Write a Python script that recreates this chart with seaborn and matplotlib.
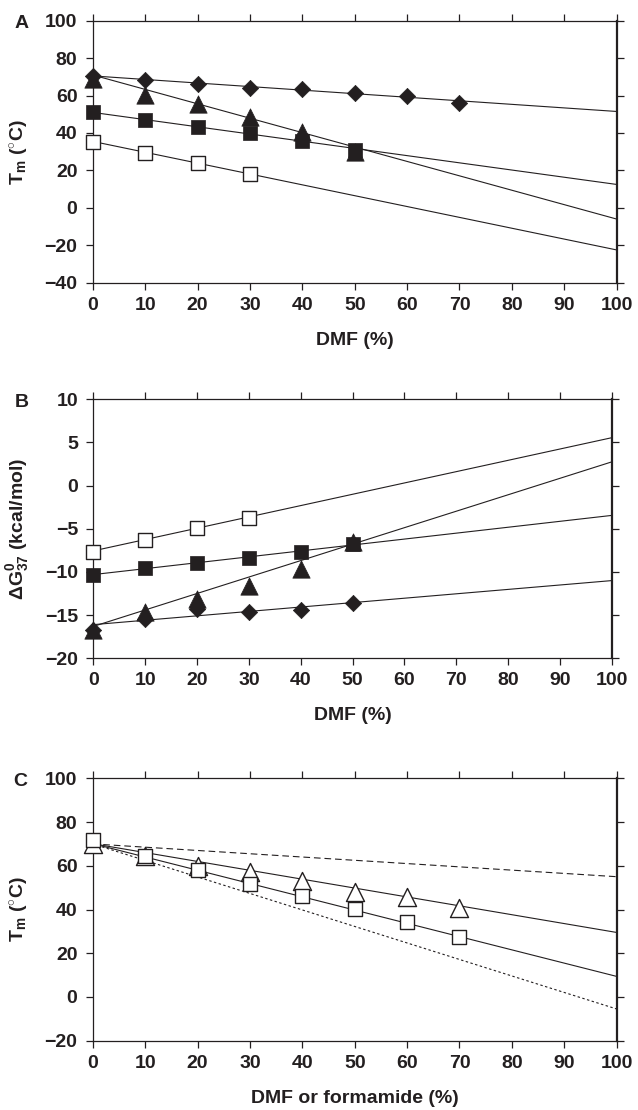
import matplotlib
matplotlib.use("Agg")
import matplotlib.pyplot as plt
import seaborn as sns

# ---------------- data ----------------
# Panel A: melting temperature (deg C) vs DMF (%)
dmf_a_diamond = [0, 10, 20, 30, 40, 50, 60, 70]
tm_a_diamond = [70.5, 68.2, 66.2, 64.3, 63.3, 61.2, 60.0, 56.2]
dmf_a_tri = [0, 10, 20, 30, 40, 50]
tm_a_tri = [69.0, 60.5, 55.5, 48.3, 40.3, 30.0]
dmf_a_fsq = [0, 10, 20, 30, 40, 50]
tm_a_fsq = [51.2, 46.9, 43.1, 40.1, 35.8, 30.8]
dmf_a_osq = [0, 10, 20, 30]
tm_a_osq = [35.3, 29.1, 23.8, 18.1]
# linear fits, value at 0 % and at 100 %
fit_x = [0, 100]
fit_a_diamond = [70.5, 51.5]
fit_a_tri = [71.0, -6.0]
fit_a_fsq = [51.0, 12.5]
fit_a_osq = [35.5, -22.5]

# Panel B: free energy dG37 (kcal/mol) vs DMF (%)
dmf_b = [0, 10, 20, 30, 40, 50]
dg_b_osq = [-7.72, -6.30, -4.95, -3.80]
dg_b_fsq = [-10.35, -9.58, -9.00, -8.42, -7.72, -6.76]
dg_b_tri = [-16.7, -14.6, -13.1, -11.6, -9.7, -6.5]
dg_b_diamond = [-16.7, -15.5, -14.3, -14.6, -14.4, -13.6]
fit_b_osq = [-7.55, 5.55]
fit_b_fsq = [-10.3, -3.45]
fit_b_tri = [-16.3, 2.75]
fit_b_diamond = [-16.1, -11.0]

# Panel C: melting temperature vs DMF or formamide (%)
dmf_c = [0, 10, 20, 30, 40, 50, 60, 70]
tm_c_tri = [70.0, 64.5, 60.0, 57.0, 53.0, 48.0, 45.6, 40.7]
tm_c_sq = [71.6, 64.3, 58.2, 51.7, 46.4, 40.2, 34.4, 27.2]
fit_c_tri = [70.1, 29.5]
fit_c_sq = [70.1, 9.4]
fit_c_dashed = [70.0, 55.0]
fit_c_dotted = [70.0, -5.5]

x_ticks = list(range(0, 101, 10))
yticks_a = list(range(-40, 101, 20))
yticks_b = list(range(-20, 11, 5))
yticks_c = list(range(-20, 101, 20))

# ---------------- style ----------------
sns.set_theme(style="ticks")
ink = "#231f20"
plt.rcParams.update({
    "font.family": ["Liberation Sans", "DejaVu Sans"],
    "font.weight": "bold",
    "font.size": 14,
    "axes.labelweight": "bold",
    "axes.labelsize": 14,
    "axes.edgecolor": ink,
    "axes.linewidth": 0.9,
    "axes.labelcolor": ink,
    "xtick.color": ink,
    "ytick.color": ink,
    "xtick.labelsize": 14,
    "ytick.labelsize": 14,
    "xtick.major.size": 5,
    "ytick.major.size": 5,
    "xtick.major.width": 0.9,
    "ytick.major.width": 0.9,
    "xtick.top": True,
    "ytick.right": True,
    "xtick.direction": "out",
    "ytick.direction": "out",
    "text.color": ink,
    "mathtext.fontset": "custom",
    "mathtext.rm": "Liberation Sans",
    "mathtext.bf": "Liberation Sans:bold",
    "mathtext.it": "Liberation Sans:italic",
})

fig = plt.figure(figsize=(6.38, 11.10), dpi=100)
W, H = 638.0, 1110.0


def make_axes(left, top, right, bottom):
    return fig.add_axes([left / W, 1 - bottom / H, (right - left) / W, (bottom - top) / H])


ax_a = make_axes(92.7, 20.7, 616.7, 282.7)
ax_b = make_axes(93.5, 399.3, 611.7, 658.3)
ax_c = make_axes(92.7, 778.3, 616.7, 1040.7)


def fit_line(ax, yvals, ls="-"):
    sns.lineplot(x=fit_x, y=yvals, ax=ax, color=ink, linewidth=0.8,
                 linestyle=ls, zorder=2)


def points(ax, x, y, marker, size, filled=True):
    if filled:
        sns.scatterplot(x=x, y=y, ax=ax, marker=marker, s=size ** 2,
                        color=ink, edgecolor=ink, linewidth=0.5, zorder=3,
                        clip_on=False)
    else:
        sns.scatterplot(x=x, y=y, ax=ax, marker=marker, s=size ** 2,
                        color="white", edgecolor=ink, linewidth=1.0, zorder=3,
                        clip_on=False)


def frame(ax, yticks, xlabel, ylabel, ylab_x):
    ax.set_xlim(0, 100)
    ax.set_ylim(yticks[0], yticks[-1])
    ax.set_xticks(x_ticks)
    ax.set_yticks(yticks)
    ax.xaxis.set_ticks_position("both")
    ax.yaxis.set_ticks_position("both")
    ax.tick_params(which="both", direction="out", length=5,
                   top=True, right=True, labeltop=False, labelright=False)
    ax.tick_params(axis="x", pad=5)
    ax.tick_params(axis="y", pad=6)
    for side in ("left", "right", "top", "bottom"):
        ax.spines[side].set_visible(True)
        ax.spines[side].set_color(ink)
    ax.spines["right"].set_linewidth(1.6)
    ax.set_xlabel(xlabel, fontweight="bold", labelpad=13)
    ax.set_ylabel(ylabel, fontweight="bold")
    ax.yaxis.set_label_coords(ylab_x, 0.5)
    ax.grid(False)


# ----- Panel A -----
for f in (fit_a_diamond, fit_a_tri, fit_a_fsq, fit_a_osq):
    fit_line(ax_a, f)
points(ax_a, dmf_a_tri, tm_a_tri, "^", 12.5)
points(ax_a, dmf_a_diamond, tm_a_diamond, "D", 8.3)
points(ax_a, dmf_a_fsq, tm_a_fsq, "s", 9.5)
points(ax_a, dmf_a_osq, tm_a_osq, "s", 9.5, filled=False)
frame(ax_a, yticks_a, "DMF (%)", r"T$_{\mathrm{m}}$ ($^{\circ}$C)", -0.118)

# ----- Panel B -----
for f in (fit_b_osq, fit_b_fsq, fit_b_tri, fit_b_diamond):
    fit_line(ax_b, f)
points(ax_b, dmf_b, dg_b_tri, "^", 12.5)
points(ax_b, dmf_b, dg_b_diamond, "D", 8.3)
points(ax_b, dmf_b, dg_b_fsq, "s", 9.5)
points(ax_b, dmf_b[:4], dg_b_osq, "s", 9.5, filled=False)
frame(ax_b, yticks_b, "DMF (%)", r"$\Delta$G$^{0}_{37}$ (kcal/mol)", -0.12)

# ----- Panel C -----
fit_line(ax_c, fit_c_tri)
fit_line(ax_c, fit_c_sq)
fit_line(ax_c, fit_c_dashed, ls=(0, (6, 3.5)))
fit_line(ax_c, fit_c_dotted, ls=(0, (2.2, 2.2)))
points(ax_c, dmf_c, tm_c_tri, "^", 13, filled=False)
points(ax_c, dmf_c, tm_c_sq, "s", 9.5, filled=False)
frame(ax_c, yticks_c, "DMF or formamide (%)", r"T$_{\mathrm{m}}$ ($^{\circ}$C)", -0.118)

# panel letters
for letter, xp, yp in (("A", 22, 23), ("B", 22, 402), ("C", 20, 781)):
    fig.text(xp / W, 1 - yp / H, letter, ha="center", va="center",
             fontsize=14, fontweight="bold", color=ink)

fig.savefig("out.png", dpi=100)
